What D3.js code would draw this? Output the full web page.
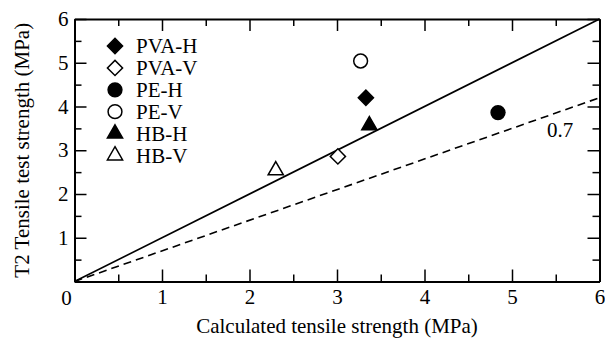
<!DOCTYPE html>
<html>
<head>
<meta charset="utf-8">
<script src="https://cdn.jsdelivr.net/npm/d3@7"></script>
<style>
  body { margin: 0; background: #fff; }
  text { font-family: "Liberation Serif", "Times New Roman", serif; fill: #000; }
</style>
</head>
<body>
<div id="chart"></div>
<script>
// data
const seriesNames = ["PVA-H", "PVA-V", "PE-H", "PE-V", "HB-H", "HB-V"];
const calcStrength = [3.33, 3.01, 4.84, 3.27, 3.37, 2.30];
const testStrength = [4.20, 2.86, 3.86, 5.04, 3.57, 2.54];
const shapes = ["diamond", "diamond", "circle", "circle", "triangle", "triangle"];
const filled = [true, false, true, false, true, false];
const majorTicks = [0, 1, 2, 3, 4, 5, 6];
const minorTicks = [0.5, 1.5, 2.5, 3.5, 4.5, 5.5];
const refSlopes = [1, 0.7];

const svg = d3.select("#chart")
    .append("svg")
    .attr("width", 605)
    .attr("height", 340);

const x = d3.scaleLinear().domain([0, 6]).range([74.5, 599.5]);
const y = d3.scaleLinear().domain([0, 6]).range([281.5, 19]);

// reference lines
const lineGen = d3.line().x(d => x(d[0])).y(d => y(d[1]));
svg.append("path")
    .attr("d", lineGen([[0, 0], [6, 6 * refSlopes[0]]]))
    .attr("fill", "none")
    .attr("stroke", "#000")
    .attr("stroke-width", 1.6);
svg.append("path")
    .attr("d", lineGen([[0, 0], [6, 6 * refSlopes[1]]]))
    .attr("fill", "none")
    .attr("stroke", "#000")
    .attr("stroke-width", 1.6)
    .attr("stroke-dasharray", "8,5");

svg.append("text")
    .attr("x", x(5.4))
    .attr("y", y(6 * refSlopes[1]) + 39)
    .style("font-size", "21px")
    .text("0.7");

// axes, ticks pointing inward
function addAxis(axisFn, transform, labels) {
    const g1 = svg.append("g").attr("transform", transform)
        .call(axisFn.tickValues(majorTicks).tickSizeInner(-12).tickSizeOuter(0)
            .tickPadding(labels ? 8 : 0)
            .tickFormat(d => (labels && d !== 0) ? d : ""));
    g1.select(".domain").attr("stroke-width", 2);
    g1.selectAll(".tick line").attr("stroke-width", 1.5);
    g1.selectAll("text").style("font-size", "21px").attr("font-family", null);
    return g1;
}
function addMinor(axisFn, transform) {
    const g2 = svg.append("g").attr("transform", transform)
        .call(axisFn.tickValues(minorTicks).tickSizeInner(-7).tickSizeOuter(0).tickFormat(""));
    g2.select(".domain").remove();
    g2.selectAll(".tick line").attr("stroke-width", 1.5);
}

addAxis(d3.axisBottom(x), `translate(0,${y(0)})`, true);
addAxis(d3.axisTop(x), `translate(0,${y(6)})`, false);
const yAx = addAxis(d3.axisLeft(y), `translate(${x(0)},0)`, true);
yAx.selectAll("text").attr("x", -6);
addAxis(d3.axisRight(y), `translate(${x(6)},0)`, false);
addMinor(d3.axisBottom(x), `translate(0,${y(0)})`);
addMinor(d3.axisTop(x), `translate(0,${y(6)})`);
addMinor(d3.axisLeft(y), `translate(${x(0)},0)`);
addMinor(d3.axisRight(y), `translate(${x(6)},0)`);

// shared zero at the corner
svg.append("text")
    .attr("x", x(0) - 8)
    .attr("y", y(0) + 23)
    .attr("text-anchor", "middle")
    .style("font-size", "21px")
    .text("0");

// axis titles
svg.append("text")
    .attr("x", (x(0) + x(6)) / 2)
    .attr("y", 333)
    .attr("text-anchor", "middle")
    .style("font-size", "21px")
    .text("Calculated tensile strength (MPa)");
svg.append("text")
    .attr("transform", `translate(29,${(y(0) + y(6)) / 2}) rotate(-90)`)
    .attr("text-anchor", "middle")
    .style("font-size", "21px")
    .text("T2 Tensile test strength (MPa)");

// markers
const symbolFor = {
    diamond: d3.symbol().type(d3.symbolSquare).size(115),
    circle: d3.symbol().type(d3.symbolCircle).size(150),
    triangle: d3.symbol().type(d3.symbolTriangle).size(100)
};
function drawMarker(g, i, cx, cy) {
    g.append("path")
        .attr("d", symbolFor[shapes[i]]())
        .attr("transform", `translate(${cx},${cy})` + (shapes[i] === "diamond" ? " rotate(45)" : ""))
        .attr("fill", filled[i] ? "#000" : "#fff")
        .attr("stroke", "#000")
        .attr("stroke-width", 1.5);
}

const pts = svg.append("g");
seriesNames.forEach((name, i) => {
    drawMarker(pts, i, x(calcStrength[i]), y(testStrength[i]));
});

// legend
const legend = svg.append("g");
seriesNames.forEach((name, i) => {
    const ly = 46 + i * 21.9;
    drawMarker(legend, i, 115, ly);
    legend.append("text")
        .attr("x", 136)
        .attr("y", ly + 7)
        .style("font-size", "21px")
        .text(name);
});
</script>
</body>
</html>
